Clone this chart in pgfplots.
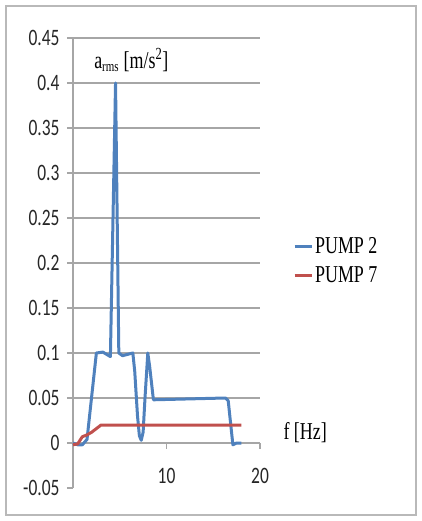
\documentclass[border=0pt]{standalone}
\usepackage{pgfplots}
\pgfplotsset{compat=1.18}
\usepackage{fontspec}
\setmainfont{Liberation Serif}
\newfontfamily\tickfont{Carlito}
\definecolor{xlblue}{HTML}{4F81BD}
\definecolor{xlred}{HTML}{C0504D}
\definecolor{gridgray}{HTML}{A6A6A6}
\begin{document}
\begin{tikzpicture}
\path (-73bp,-33bp) rectangle (349bp,488bp);
\draw[gray!55, line width=1.6bp] (-67bp,-27bp) rectangle (343bp,482bp);
\begin{axis}[
  scale only axis,
  width=187bp, height=450bp,
  xmin=0, xmax=20, ymin=-0.05, ymax=0.45,
  axis x line=middle, axis y line=left,
  axis line style={-, gridgray, line width=1.2bp},
  xtick={0,10,20}, xticklabels={0,10,20},
  ytick={0,0.05,0.1,0.15,0.2,0.25,0.3,0.35,0.4,0.45},
  yticklabels={0,0.05,0.1,0.15,0.2,0.25,0.3,0.35,0.4,0.45},
  extra y ticks={-0.05}, extra y tick labels={-0.05},
  extra y tick style={grid=none},
  ymajorgrids,
  grid style={gridgray, line width=1.6bp},
  tick align=outside,
  major tick length=6bp,
  tick style={gridgray, line width=1.2bp},
  ticklabel style={font=\tickfont\fontsize{17.5}{17.5}\selectfont, yscale=1.35, text=black!85},
  xticklabel style={yshift=-11bp},
  yticklabel style={xshift=-4bp},
  clip=false,
  xlabel={f [Hz]},
  xlabel style={at={(axis description cs:1.107,0.124)}, anchor=west, font=\fontsize{18}{18}\selectfont, yscale=1.35},
  ylabel={a\textsubscript{\fontsize{11}{11}\selectfont rms} [m/s\textsuperscript{2}]},
  ylabel style={at={(axis description cs:0.095,0.951)}, anchor=west, rotate=-90, font=\fontsize{18}{18}\selectfont, yscale=1.35},
  legend style={at={(axis description cs:1.16,0.568)}, anchor=north west, draw=none, fill=none,
    font=\fontsize{18}{18}\selectfont, row sep=6bp, nodes={yscale=1.35}},
  legend cell align=left,
  legend image code/.code={\draw[#1, line width=3bp] (0bp,0bp) -- (17bp,0bp);},
]
\addplot[xlblue, line width=3bp, line join=round] coordinates {
(0,0) (0.5,-0.002) (1,-0.002) (1.5,0.004) (2.5,0.1) (3.2,0.101) (4,0.096) (4.55,0.4) (4.9,0.1) (5.3,0.097) (6.4,0.1) (6.6,0.08) (6.9,0.03) (7.1,0.008) (7.3,0.003) (7.5,0.012) (7.7,0.05) (8,0.1) (8.2,0.085) (8.6,0.048) (16.3,0.05) (16.6,0.047) (17.1,-0.002) (17.5,0) (18,0)
};
\addlegendentry{PUMP 2}
\addplot[xlred, line width=3bp, line join=round] coordinates {
(0,-0.002) (0.5,-0.001) (1,0.007) (1.5,0.009) (2,0.012) (3,0.02) (18,0.02)
};
\addlegendentry{PUMP 7}
\end{axis}
\end{tikzpicture}
\end{document}
